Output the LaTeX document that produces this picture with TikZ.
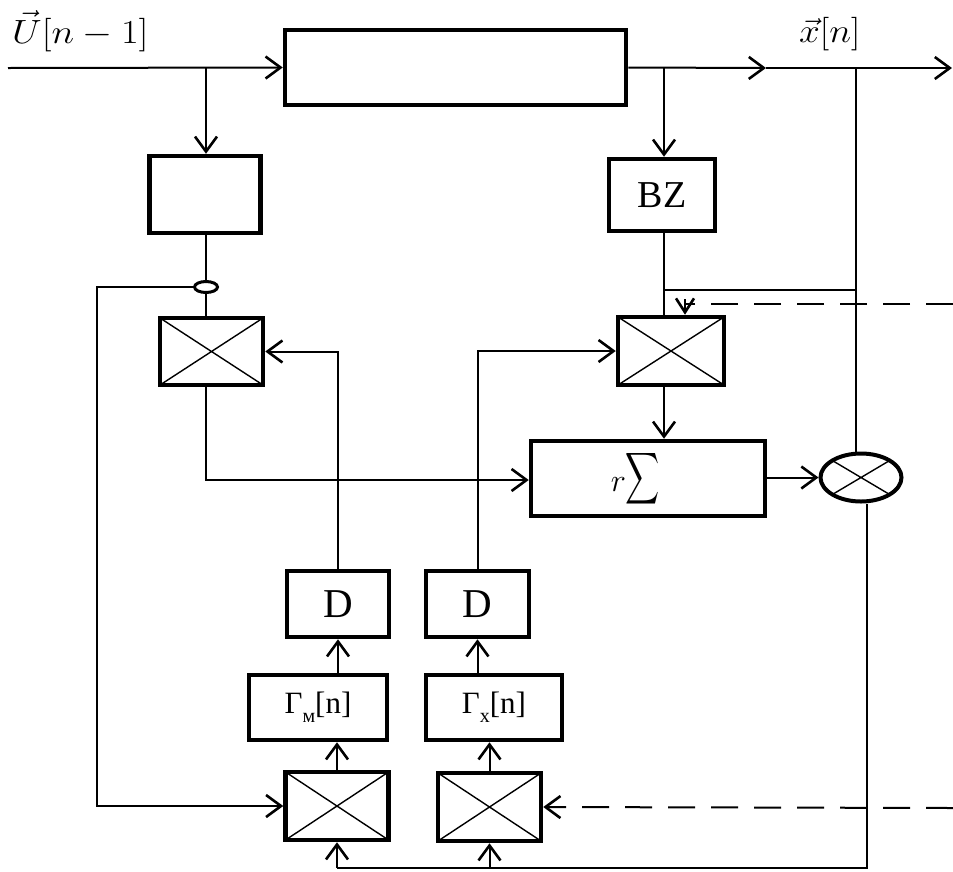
\RequirePackage{fix-cm}
\documentclass[tikz,border=0pt]{standalone}
\usepackage{amsmath}
\usepackage{fontspec}
\setmainfont{Liberation Serif}
\usetikzlibrary{arrows.meta,shapes.geometric}
\begin{document}
\begin{tikzpicture}[x=1pt,y=-1pt,
  conn/.style={line width=2pt},
  arr/.style={conn,-{Straight Barb[length=15pt,width=22pt,line width=2.6pt]}},
  sarr/.style={conn,-{Straight Barb[length=14pt,width=18pt,line width=2.6pt]}},
  dsh/.style={conn,dash pattern=on 27pt off 16pt},
  blk/.style={draw,line width=4.5pt,inner sep=0pt},
  xcross/.style={path picture={\draw[line width=1.4pt]
      (path picture bounding box.south west) -- (path picture bounding box.north east)
      (path picture bounding box.north west) -- (path picture bounding box.south east);}},
  mulbox/.style={blk,xcross,minimum width=103pt,minimum height=67pt},
  big/.style={font=\fontsize{38}{40}\selectfont},
  gam/.style={font=\fontsize{31}{33}\selectfont},
  lbl/.style={font=\fontsize{24.88}{26}\selectfont,inner sep=0pt}]
\useasboundingbox (0,0) rectangle (953,871);

% blocks
\node[blk,minimum width=341pt,minimum height=75pt] (main) at (455.5,67.5) {};
\node[blk,minimum width=111pt,minimum height=77pt] (lbox) at (205,194.5) {};
\node[blk,big,minimum width=106pt,minimum height=72pt] (bz) at (662,195) {BZ};
\node[mulbox] (lmul) at (211.5,351.5) {};
\node[mulbox,minimum width=106pt,minimum height=68pt] (rmul) at (671,351) {};
\node[blk,minimum width=234pt,minimum height=75pt] (sum) at (648,478.5)
  {\fontsize{24.88}{26}\selectfont\raisebox{-4pt}{\scalebox{1.3}{$r$}}\hspace{-1pt}\scalebox{0.95}[1.45]{$\displaystyle\sum$}\hspace*{26pt}};
\node[ellipse,draw,line width=4pt,xcross,inner sep=0pt,minimum width=81pt,minimum height=48pt] (cmul) at (861,477.5) {};
\node[ellipse,draw,line width=3pt,inner sep=0pt,minimum width=23pt,minimum height=11pt] (oval) at (206,287) {};
\node[blk,font=\fontsize{41}{43}\selectfont,minimum width=102pt,minimum height=66pt] (d1) at (338,604) {D};
\node[blk,font=\fontsize{41}{43}\selectfont,minimum width=103pt,minimum height=66pt] (d2) at (477.5,604) {D};
\node[blk,gam,minimum width=138pt,minimum height=65pt] (g1) at (318,707.5)
  {Γ\raisebox{-0.28em}{\fontsize{20}{20}\selectfont м}[n]};
\node[blk,gam,minimum width=136pt,minimum height=65pt] (g2) at (494,707.5)
  {Γ\raisebox{-0.28em}{\fontsize{20}{20}\selectfont х}[n]};
\node[mulbox,minimum height=68pt] (bm1) at (337,806) {};
\node[mulbox,minimum height=68pt] (bm2) at (489.5,807) {};

% labels
\node[lbl,anchor=base west] (ulab) at (12,43) {\scalebox{1.55}[1.35]{$\vec{U}[n-1]$}};
\node[lbl,anchor=base west] (xlab) at (799,42) {\scalebox{1.5}[1.35]{$\vec{x}[n]$}};

% coordinates
\coordinate (in) at (8,68);
\coordinate (j1) at (206,68);
\coordinate (j2) at (664,68);
\coordinate (mid) at (766,68);
\coordinate (out) at (952,68);
\coordinate (j3) at (856,68);
\coordinate (j4) at (856,290);
\coordinate (d1s) at (953,304);
\coordinate (d1e) at (685,304);
\coordinate (d1t) at (685,299);
\coordinate (d2s) at (953,808);
\coordinate (k) at (97,287);
\coordinate (k2) at (206,480);
\coordinate (jb) at (867,868);

% top signal path
\draw[arr] (in) -- (main.west);
\draw[arr] (j1) -- (j1 |- lbox.north);
\draw[arr] (main.east) -- (mid);
\draw[arr] (mid) -- (out);
\draw[arr] (j2) -- (j2 |- bz.north);
\draw[conn] (j3) -- (j3 |- cmul.north);
\draw[conn] (j4) -- (j4 -| j2);

% left branch
\draw[conn] (lbox.south -| j1) -- (oval.north);
\draw[conn] (oval.south) -- (oval.south |- lmul.north);
\draw[arr] (oval.west) -- (k) |- (bm1.west);
\draw[arr] (lmul.south -| k2) -- (k2) -- (k2 -| sum.west);

% right branch
\draw[conn] (bz.south -| j2) -- (j2 |- rmul.north);
\draw[arr] (rmul.south -| j2) -- (j2 |- sum.north);
\draw[arr] (sum.east |- cmul.west) -- (cmul.west);
\draw[dsh] (d1s) -- (d1e);
\draw[sarr] (d1t) -- (d1t |- rmul.north);

% D blocks to multipliers
\draw[arr] (d1.north) |- (lmul.east);
\draw[arr] (d2.north) |- (rmul.west);
\draw[arr] (g1.north -| d1.south) -- (d1.south);
\draw[arr] (g2.north -| d2.south) -- (d2.south);
\draw[arr] (bm1.north) -- (bm1.north |- g1.south);
\draw[arr] (bm2.north) -- (bm2.north |- g2.south);

% bottom feedback
\draw[conn] (cmul.south -| jb) -- (jb) -- (jb -| bm1.south);
\draw[arr] (jb -| bm1.south) -- (bm1.south);
\draw[arr] (jb -| bm2.south) -- (bm2.south);
\draw[dsh,-{Straight Barb[length=15pt,width=22pt,line width=2.6pt]}] (d2s) -- (bm2.east);
\end{tikzpicture}
\end{document}
